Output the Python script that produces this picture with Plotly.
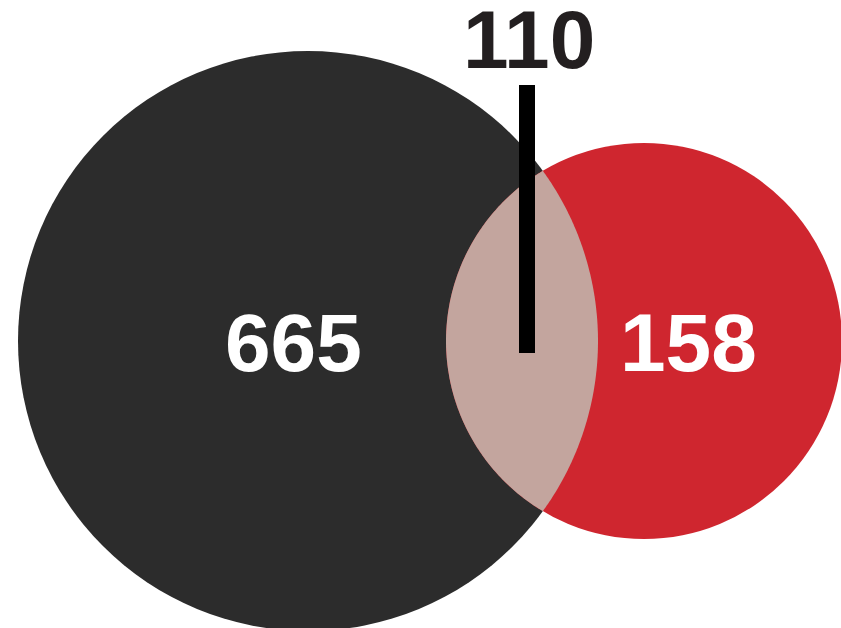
import numpy as np
import plotly.graph_objects as go

# Data
set_labels = ["Set A", "Set B"]
only_a = 665
only_b = 158
both = 110

# Layout geometry (pixel units)
W, H = 841, 628
A = dict(cx=308, cy=341, r=290)
B = dict(cx=644, cy=341, r=198)

col_a = "#2c2c2c"
col_b = "#cf262f"
col_ab = "#c3a59e"

fig = go.Figure()

# lens of intersection
d = B["cx"] - A["cx"]
a = (d**2 + A["r"]**2 - B["r"]**2) / (2 * d)
h = np.sqrt(A["r"]**2 - a**2)
ix = A["cx"] + a
phi_a = np.arctan2(h, ix - A["cx"])
phi_b = np.arctan2(h, B["cx"] - ix)
ta = np.linspace(-phi_a, phi_a, 160)            # right arc of A, top -> bottom (y down)
xa = A["cx"] + A["r"] * np.cos(ta)
ya = A["cy"] + A["r"] * np.sin(ta)
tb = np.linspace(np.pi - phi_b, np.pi + phi_b, 160)  # left arc of B
xb = B["cx"] + B["r"] * np.cos(tb)
yb = B["cy"] + B["r"] * np.sin(tb)
px = np.r_[xa, xb]
py = np.r_[ya, yb]
path = "M " + " L ".join(f"{x:.2f},{y:.2f}" for x, y in zip(px, py)) + " Z"

shapes = [
    dict(type="circle", xref="x", yref="y", x0=A["cx"] - A["r"], x1=A["cx"] + A["r"],
         y0=A["cy"] - A["r"], y1=A["cy"] + A["r"], fillcolor=col_a, line=dict(width=0), layer="below"),
    dict(type="circle", xref="x", yref="y", x0=B["cx"] - B["r"], x1=B["cx"] + B["r"],
         y0=B["cy"] - B["r"], y1=B["cy"] + B["r"], fillcolor=col_b, line=dict(width=0), layer="below"),
    dict(type="path", xref="x", yref="y", path=path, fillcolor=col_ab, line=dict(width=0), layer="below"),
    dict(type="line", xref="x", yref="y", x0=527, x1=527, y0=85, y1=353,
         line=dict(color="#000000", width=16), layer="above"),
]

font = dict(family="Liberation Sans, Arial", size=82, weight="bold")
annotations = [
    dict(x=293, y=342, text=str(only_a), showarrow=False, font=dict(font, color="#ffffff"),
         xanchor="center", yanchor="middle"),
    dict(x=688, y=342, text=str(only_b), showarrow=False, font=dict(font, color="#ffffff"),
         xanchor="center", yanchor="middle"),
    dict(x=529, y=39, text=str(both), showarrow=False, font=dict(font, color="#231f20"),
         xanchor="center", yanchor="middle"),
]

fig.add_trace(go.Scatter(x=[0, W], y=[0, H], mode="markers", marker=dict(opacity=0),
                         hoverinfo="skip", showlegend=False))

fig.update_layout(
    width=W, height=H, margin=dict(l=0, r=0, t=0, b=0),
    paper_bgcolor="white", plot_bgcolor="white",
    xaxis=dict(range=[0, W], visible=False, fixedrange=True),
    yaxis=dict(range=[H, 0], visible=False, fixedrange=True),
    shapes=shapes, annotations=annotations, showlegend=False,
)

fig.write_html("out.html", config={"displayModeBar": False},
               post_script="document.body.style.margin='0';document.body.style.overflow='hidden';")
